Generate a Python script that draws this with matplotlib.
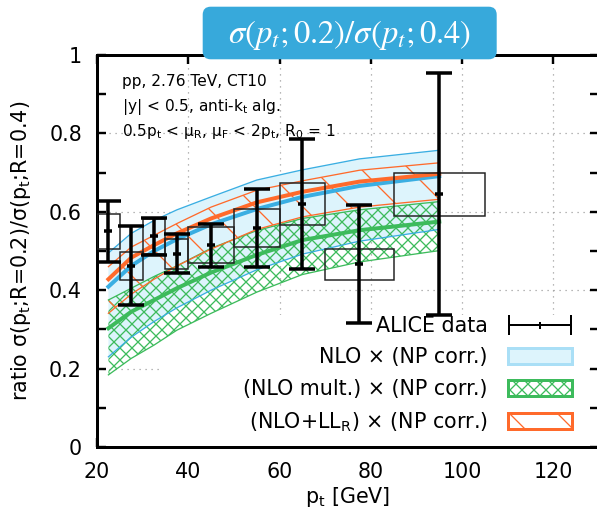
import numpy as np
import matplotlib
matplotlib.use('Agg')
import matplotlib.pyplot as plt
from matplotlib.patches import Patch, FancyBboxPatch, Rectangle
from matplotlib.legend_handler import HandlerErrorbar
from matplotlib.ticker import MultipleLocator, FuncFormatter

DPI = 144
W, H = 597, 520
plt.rcParams['hatch.linewidth'] = 0.65
plt.rcParams['font.family'] = ['DejaVu Sans']

# ---------------- data ----------------
pt_centers = [22.5, 27.5, 32.5, 37.5, 45, 55, 65, 77.5, 95]
bin_lo = [20, 25, 30, 35, 40, 50, 60, 70, 85]
bin_hi = [25, 30, 35, 40, 50, 60, 70, 85, 105]
data_ratio = [0.550, 0.463, 0.538, 0.493, 0.515, 0.559, 0.620, 0.467, 0.646]
stat_err = [0.078, 0.101, 0.047, 0.050, 0.055, 0.100, 0.166, 0.150, 0.308]
sys_lo = [0.504, 0.425, 0.492, 0.454, 0.469, 0.509, 0.566, 0.425, 0.589]
sys_hi = [0.594, 0.497, 0.582, 0.531, 0.561, 0.607, 0.673, 0.504, 0.700]

theory_pt = [22.5, 27.5, 32.5, 37.5, 45, 55, 65, 77.5, 95]
nlo_central = [0.409, 0.462, 0.500, 0.530, 0.568, 0.607, 0.638, 0.666, 0.691]
nlo_upper = [0.495, 0.545, 0.578, 0.605, 0.638, 0.681, 0.707, 0.735, 0.757]
nlo_lower = [0.230, 0.280, 0.320, 0.355, 0.400, 0.452, 0.492, 0.525, 0.555]
mult_central = [0.303, 0.345, 0.375, 0.405, 0.445, 0.490, 0.528, 0.553, 0.575]
mult_upper = [0.375, 0.405, 0.435, 0.462, 0.507, 0.552, 0.583, 0.605, 0.626]
mult_lower = [0.184, 0.226, 0.260, 0.298, 0.341, 0.395, 0.440, 0.472, 0.501]
ll_central = [0.428, 0.483, 0.515, 0.545, 0.583, 0.624, 0.651, 0.677, 0.697]
ll_upper = [0.460, 0.510, 0.540, 0.570, 0.612, 0.655, 0.679, 0.706, 0.725]
ll_lower = [0.341, 0.390, 0.428, 0.462, 0.505, 0.555, 0.587, 0.612, 0.632]

x_ticks = [20, 40, 60, 80, 100, 120]
y_ticks = [0, 0.2, 0.4, 0.6, 0.8, 1]

legend_labels = ['ALICE data', 'NLO × (NP corr.)', '(NLO mult.) × (NP corr.)',
                 '(NLO+LL$_\\mathregular{R}$) × (NP corr.)']

BLUE = '#3aaee2'
BLUE_FILL = '#ddf4fc'
GREEN = '#3dbb5c'
ORANGE = '#ff6a2b'

fig = plt.figure(figsize=(W / DPI, H / DPI), dpi=DPI)
ax = fig.add_axes([97 / W, 73 / H, 502 / W, 392 / H])
ax.set_xlim(20, 130)
ax.set_ylim(0, 1)

# grid
ax.set_axisbelow(True)
ax.grid(True, which='major', color='#9a9a9a', lw=0.6, ls=(0, (1, 4)))

# opaque legend backdrop (hides grid, below bands)
ax.add_patch(Rectangle((0.13, 0.0), 0.842, 0.337, transform=ax.transAxes,
                       facecolor='white', edgecolor='none', zorder=0.8))

# bands
ax.fill_between(theory_pt, nlo_lower, nlo_upper, facecolor=BLUE_FILL,
                edgecolor='none', lw=0, zorder=1.0)
ax.fill_between(theory_pt, mult_lower, mult_upper, facecolor='none',
                edgecolor=GREEN, hatch='xxxx', lw=0, zorder=1.1)
ax.fill_between(theory_pt, ll_lower, ll_upper, facecolor='none',
                edgecolor=ORANGE, hatch='\\', lw=0, zorder=1.2)

thin = 0.65
ax.plot(theory_pt, nlo_upper, color=BLUE, lw=thin, zorder=2)
ax.plot(theory_pt, nlo_lower, color=BLUE, lw=thin, zorder=2)
ax.plot(theory_pt, mult_upper, color=GREEN, lw=thin, zorder=2)
ax.plot(theory_pt, mult_lower, color=GREEN, lw=thin, zorder=2)
ax.plot(theory_pt, ll_upper, color=ORANGE, lw=thin, zorder=2)
ax.plot(theory_pt, ll_lower, color=ORANGE, lw=thin, zorder=2)
ax.plot(theory_pt, mult_central, color=GREEN, lw=2.0, zorder=3)
ax.plot(theory_pt, nlo_central, color=BLUE, lw=2.0, zorder=3)
ax.plot(theory_pt, ll_central, color=ORANGE, lw=2.0, zorder=3)

# systematic boxes
ax.bar(bin_lo, np.subtract(sys_hi, sys_lo), bottom=sys_lo,
       width=np.subtract(bin_hi, bin_lo), align='edge', fill=False,
       edgecolor='#222222', lw=0.75, zorder=5)

# data with stat errors
ax.errorbar(pt_centers, data_ratio, yerr=stat_err, fmt='_', color='k',
            ms=4, mew=1.75, elinewidth=1.75, capsize=6.5, capthick=1.75,
            zorder=6)

# axes styling
for s in ax.spines.values():
    s.set_linewidth(1.5)
ax.set_xticks(x_ticks)
ax.set_yticks(y_ticks)
ax.yaxis.set_minor_locator(MultipleLocator(0.1))
ax.yaxis.set_major_formatter(FuncFormatter(lambda v, p: '%g' % v))
ax.tick_params(which='both', direction='in', length=4.5, width=1.2,
               top=True, right=True, labelsize=10.3, pad=7.5)
ax.tick_params(axis='x', which='minor', length=0)

ax.set_xlabel('p$_\\mathregular{t}$ [GeV]', fontsize=10.3)
ax.xaxis.set_label_coords(0.5, -0.098)
ax.xaxis.label.set_va('top')
ax.set_ylabel('ratio σ(p$_\\mathregular{t}$;R=0.2)/σ(p$_\\mathregular{t}$;R=0.4)',
              fontsize=10.3)
ax.yaxis.set_label_coords(-0.128, 0.5)

# annotation
ann = ['pp, 2.76 TeV, CT10',
       '|y| < 0.5, anti-k$_\\mathregular{t}$ alg.',
       '0.5p$_\\mathregular{t}$ < μ$_\\mathregular{R}$, μ$_\\mathregular{F}$ < 2p$_\\mathregular{t}$, R$_\\mathregular{0}$ = 1']
for i, t in enumerate(ann):
    ax.text(0.049, 0.932 - i * 0.064, t, transform=ax.transAxes, fontsize=7.7,
            ha='left', va='center', zorder=4)

# legend
h_data = ax.errorbar([np.nan], [np.nan], xerr=[1.0], fmt='|', color='k',
                     ms=3.5, mew=1.0, elinewidth=1.0, capsize=5, capthick=1.0)
h_nlo = Patch(facecolor=BLUE_FILL, edgecolor='#aadff6', lw=1.5)
h_mult = Patch(facecolor='white', edgecolor=GREEN, hatch='xxxx', lw=1.5)
h_ll = Patch(facecolor='white', edgecolor=ORANGE, hatch='\\', lw=1.5)
leg = ax.legend([h_data, h_nlo, h_mult, h_ll], legend_labels,
                loc='lower right', bbox_to_anchor=(0.946, 0.034),
                frameon=False, markerfirst=False, fontsize=10.3,
                handlelength=3.1, handleheight=0.82, handletextpad=1.0,
                labelspacing=0.55, borderpad=0, borderaxespad=0,
                handler_map={type(h_data): HandlerErrorbar(xerr_size=1.5)})
leg.set_zorder(4)

# title box
fig.add_artist(FancyBboxPatch((202.7 / W, 1 - 59.3 / H), 294 / W, 52.6 / H,
                              boxstyle='round,pad=0,rounding_size=%f' % (8 / W),
                              mutation_aspect=W / H, transform=fig.transFigure,
                              facecolor='#37a9db', edgecolor='none', zorder=10))
fig.text(349.7 / W, 1 - 35 / H, r'$\sigma(p_t;0.2)/\sigma(p_t;0.4)$',
         color='white', fontsize=16.3, math_fontfamily='stix',
         ha='center', va='center', zorder=11)

fig.savefig('out.png', dpi=DPI)
